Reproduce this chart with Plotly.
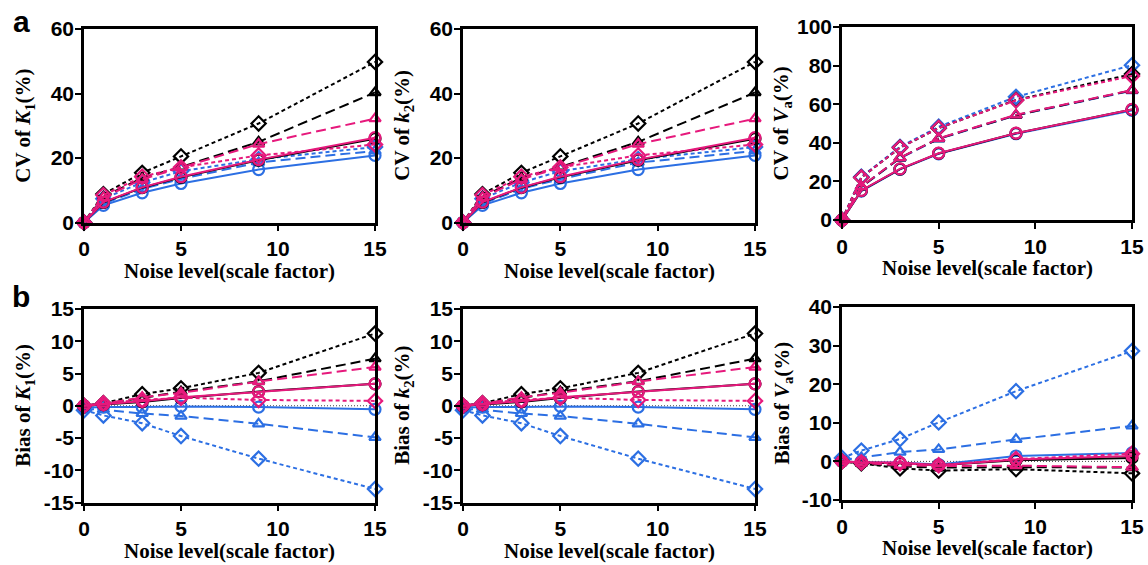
import plotly.graph_objects as go

# Noise levels (scale factor)
noise = [0, 1, 3, 5, 9, 15]

# ---- CV (%) of K1 / k2 (both rate constants show the same profile) ----
cv_k_blue_circle = [0, 5.3, 9.2, 12.1, 16.4, 20.8]
cv_k_blue_triangle = [0, 5.8, 10.4, 13.5, 18.6, 22.2]
cv_k_blue_diamond = [0, 7.4, 12.4, 15.9, 19.6, 23.4]
cv_k_black_circle = [0, 6.2, 10.8, 14.0, 19.3, 26.0]
cv_k_black_triangle = [0, 8.0, 13.8, 17.2, 25.0, 40.3]
cv_k_black_diamond = [0, 8.8, 15.4, 20.5, 30.7, 49.8]
cv_k_pink_circle = [0, 6.3, 10.9, 14.2, 19.5, 26.3]
cv_k_pink_triangle = [0, 7.8, 13.4, 17.0, 24.3, 32.2]
cv_k_pink_diamond = [0, 8.5, 14.2, 17.1, 20.8, 24.2]

# ---- CV (%) of Va ----
cv_va_blue_circle = [0, 15.0, 26.2, 34.3, 44.7, 56.8]
cv_va_blue_triangle = [0, 17.0, 32.0, 42.0, 54.2, 67.0]
cv_va_blue_diamond = [0, 22.4, 37.9, 48.3, 63.8, 80.2]
cv_va_black_circle = [0, 15.2, 26.4, 34.5, 44.9, 57.2]
cv_va_black_triangle = [0, 17.2, 32.2, 42.2, 54.3, 67.2]
cv_va_black_diamond = [0, 22.0, 37.4, 47.6, 62.2, 75.6]
cv_va_pink_circle = [0, 15.3, 26.5, 34.6, 45.0, 57.3]
cv_va_pink_triangle = [0, 17.3, 32.3, 42.3, 54.5, 67.3]
cv_va_pink_diamond = [0, 22.0, 37.5, 47.7, 62.0, 74.6]

# ---- Bias (%) of K1 / k2 ----
bias_k_blue_circle = [-0.3, -0.2, -0.2, -0.1, -0.2, -0.55]
bias_k_blue_triangle = [-0.5, -0.6, -1.2, -1.6, -2.8, -4.9]
bias_k_blue_diamond = [-0.7, -1.5, -2.7, -4.7, -8.2, -12.9]
bias_k_black_circle = [0, 0.2, 0.6, 1.2, 2.2, 3.4]
bias_k_black_triangle = [0, 0.3, 1.2, 2.2, 3.8, 7.3]
bias_k_black_diamond = [0, 0.4, 1.8, 2.7, 5.1, 11.2]
bias_k_pink_circle = [0, 0.2, 0.7, 1.3, 2.15, 3.4]
bias_k_pink_triangle = [0, 0.3, 1.3, 2.0, 3.75, 6.0]
bias_k_pink_diamond = [0, 0.4, 0.9, 1.25, 0.9, 0.75]

# ---- Bias (%) of Va ----
bias_va_blue_circle = [0, -0.2, -0.3, -0.8, 1.4, 2.2]
bias_va_blue_triangle = [0.3, 1.0, 2.4, 3.1, 5.7, 9.2]
bias_va_blue_diamond = [0.9, 2.8, 5.8, 10.1, 18.2, 28.6]
bias_va_black_circle = [0, -0.3, -0.5, -1.0, 0.3, 0.9]
bias_va_black_triangle = [0, -0.5, -1.3, -1.6, -1.5, -1.6]
bias_va_black_diamond = [0, -0.5, -1.8, -2.4, -2.0, -3.1]
bias_va_pink_circle = [0, -0.2, -0.3, -1.0, 0.5, 1.4]
bias_va_pink_triangle = [0, -0.4, -1.0, -1.2, -1.1, -1.5]
bias_va_pink_diamond = [0, -0.3, -0.5, -1.0, 0.6, 2.0]

# Axis ranges, tick values and titles per panel
x_ticks = [0, 5, 10, 15]
y_ranges = [[0, 60], [0, 60], [0, 100], [-15, 15], [-15, 15], [-10, 40]]
y_ticks = [
    [0, 20, 40, 60],
    [0, 20, 40, 60],
    [0, 20, 40, 60, 80, 100],
    [-15, -10, -5, 0, 5, 10, 15],
    [-15, -10, -5, 0, 5, 10, 15],
    [-10, 0, 10, 20, 30, 40],
]
y_titles = [
    "CV of <i>K</i><sub>1</sub>(%)",
    "CV of <i>k</i><sub>2</sub>(%)",
    "CV of <i>V</i><sub>a</sub>(%)",
    "Bias of <i>K</i><sub>1</sub>(%)",
    "Bias of <i>k</i><sub>2</sub>(%)",
    "Bias of <i>V</i><sub>a</sub>(%)",
]
x_title = "Noise level(scale factor)"
panel_letters = ["a", "b"]

BLUE = "#2C6FE3"
BLACK = "#000000"
PINK = "#E6197C"

W, H = 1148, 565

# Plot-area pixel boxes: (left, right, top, bottom)
boxes = [
    (84, 375, 29, 222.5),
    (463, 755, 29, 222.5),
    (842, 1132, 27, 220),
    (84, 375, 309, 502.5),
    (463, 755, 309, 502.5),
    (842, 1132, 307, 500),
]

# series list per panel: (values, colour, style)
def series_set(bc, bt, bd, kc, kt, kd, pc, pt, pd):
    return [
        (bc, BLUE, "circle"), (bt, BLUE, "triangle"), (bd, BLUE, "diamond"),
        (kc, BLACK, "circle"), (kt, BLACK, "triangle"), (kd, BLACK, "diamond"),
        (pc, PINK, "circle"), (pt, PINK, "triangle"), (pd, PINK, "diamond"),
    ]

cv_k = series_set(cv_k_blue_circle, cv_k_blue_triangle, cv_k_blue_diamond,
                  cv_k_black_circle, cv_k_black_triangle, cv_k_black_diamond,
                  cv_k_pink_circle, cv_k_pink_triangle, cv_k_pink_diamond)
cv_va = series_set(cv_va_blue_circle, cv_va_blue_triangle, cv_va_blue_diamond,
                   cv_va_black_circle, cv_va_black_triangle, cv_va_black_diamond,
                   cv_va_pink_circle, cv_va_pink_triangle, cv_va_pink_diamond)
bias_k = series_set(bias_k_blue_circle, bias_k_blue_triangle, bias_k_blue_diamond,
                    bias_k_black_circle, bias_k_black_triangle, bias_k_black_diamond,
                    bias_k_pink_circle, bias_k_pink_triangle, bias_k_pink_diamond)
bias_va = series_set(bias_va_blue_circle, bias_va_blue_triangle, bias_va_blue_diamond,
                     bias_va_black_circle, bias_va_black_triangle, bias_va_black_diamond,
                     bias_va_pink_circle, bias_va_pink_triangle, bias_va_pink_diamond)

panels = [cv_k, cv_k, cv_va, bias_k, bias_k, bias_va]

style_map = {
    "circle": dict(symbol="circle-open", size=11, dash="solid"),
    "triangle": dict(symbol="triangle-up-open", size=10, dash="10px,5px"),
    "diamond": dict(symbol="diamond-open", size=11, dash="4px,3px"),
}

fig = go.Figure()
layout = dict(
    width=W, height=H,
    margin=dict(l=0, r=0, t=0, b=0, autoexpand=False),
    paper_bgcolor="white", plot_bgcolor="white",
    showlegend=False,
)

tick_font = dict(family="Liberation Sans, Arial, sans-serif", size=21, color="black", weight="bold")
title_font = dict(family="Liberation Serif, Times New Roman, serif", size=21, color="black", weight="bold")

annotations = []
shapes = []

for i, (box, series) in enumerate(zip(boxes, panels)):
    n = i + 1
    xs = "" if n == 1 else str(n)
    left, right, top, bottom = box
    xdom = [left / W, right / W]
    ydom = [1 - bottom / H, 1 - top / H]
    layout["xaxis" + xs] = dict(
        domain=xdom, anchor="y" + xs, range=[0, 15],
        tickvals=x_ticks, ticktext=[str(v) for v in x_ticks],
        showline=True, linecolor="black", linewidth=2.5, mirror=True,
        ticks="outside", ticklen=6, tickwidth=2, tickcolor="black",
        showgrid=False, zeroline=False, tickfont=tick_font, fixedrange=True,
        automargin=False,
    )
    layout["yaxis" + xs] = dict(
        domain=ydom, anchor="x" + xs, range=y_ranges[i],
        tickvals=y_ticks[i], ticktext=[str(v) for v in y_ticks[i]],
        showline=True, linecolor="black", linewidth=2.5, mirror=True,
        ticks="outside", ticklen=6, tickwidth=2, tickcolor="black",
        ticklabelstandoff=-3,
        showgrid=False, zeroline=False, tickfont=tick_font, fixedrange=True,
        automargin=False,
    )
    # dotted reference level for the bias panels
    if y_ranges[i][0] < 0:
        shapes.append(dict(
            type="line", xref="x" + xs + " domain", yref="y" + xs,
            x0=0, x1=1, y0=0, y1=0,
            line=dict(color="#444444", width=1, dash="1px,2px"), layer="below",
        ))
    for vals, color, kind in series:
        st = style_map[kind]
        fig.add_trace(go.Scatter(
            x=noise, y=vals, mode="lines+markers",
            xaxis="x" + xs, yaxis="y" + xs, cliponaxis=False,
            line=dict(color=color, width=2, dash=st["dash"]),
            marker=dict(symbol=st["symbol"], size=st["size"], color=color,
                        line=dict(color=color, width=2.2)),
            hoverinfo="x+y",
        ))
    # axis titles
    annotations.append(dict(
        text=x_title, xref="paper", yref="paper",
        x=(left + right) / 2 / W, y=1 - (bottom + 48) / H,
        xanchor="center", yanchor="middle", showarrow=False, font=title_font,
    ))
    annotations.append(dict(
        text=y_titles[i], xref="paper", yref="paper",
        x=(left - 60) / W, y=1 - (top + bottom) / 2 / H,
        xanchor="center", yanchor="middle", showarrow=False, textangle=-90,
        font=title_font,
    ))

for letter, ypix in zip(panel_letters, [21, 296]):
    annotations.append(dict(
        text=letter, xref="paper", yref="paper", x=21 / W, y=1 - ypix / H,
        xanchor="center", yanchor="middle", showarrow=False,
        font=dict(family="Liberation Sans, Arial, sans-serif", size=30,
                  color="black", weight="bold"),
    ))

layout["annotations"] = annotations
layout["shapes"] = shapes
fig.update_layout(**layout)
fig.write_html("out.html", config={"displayModeBar": False})
